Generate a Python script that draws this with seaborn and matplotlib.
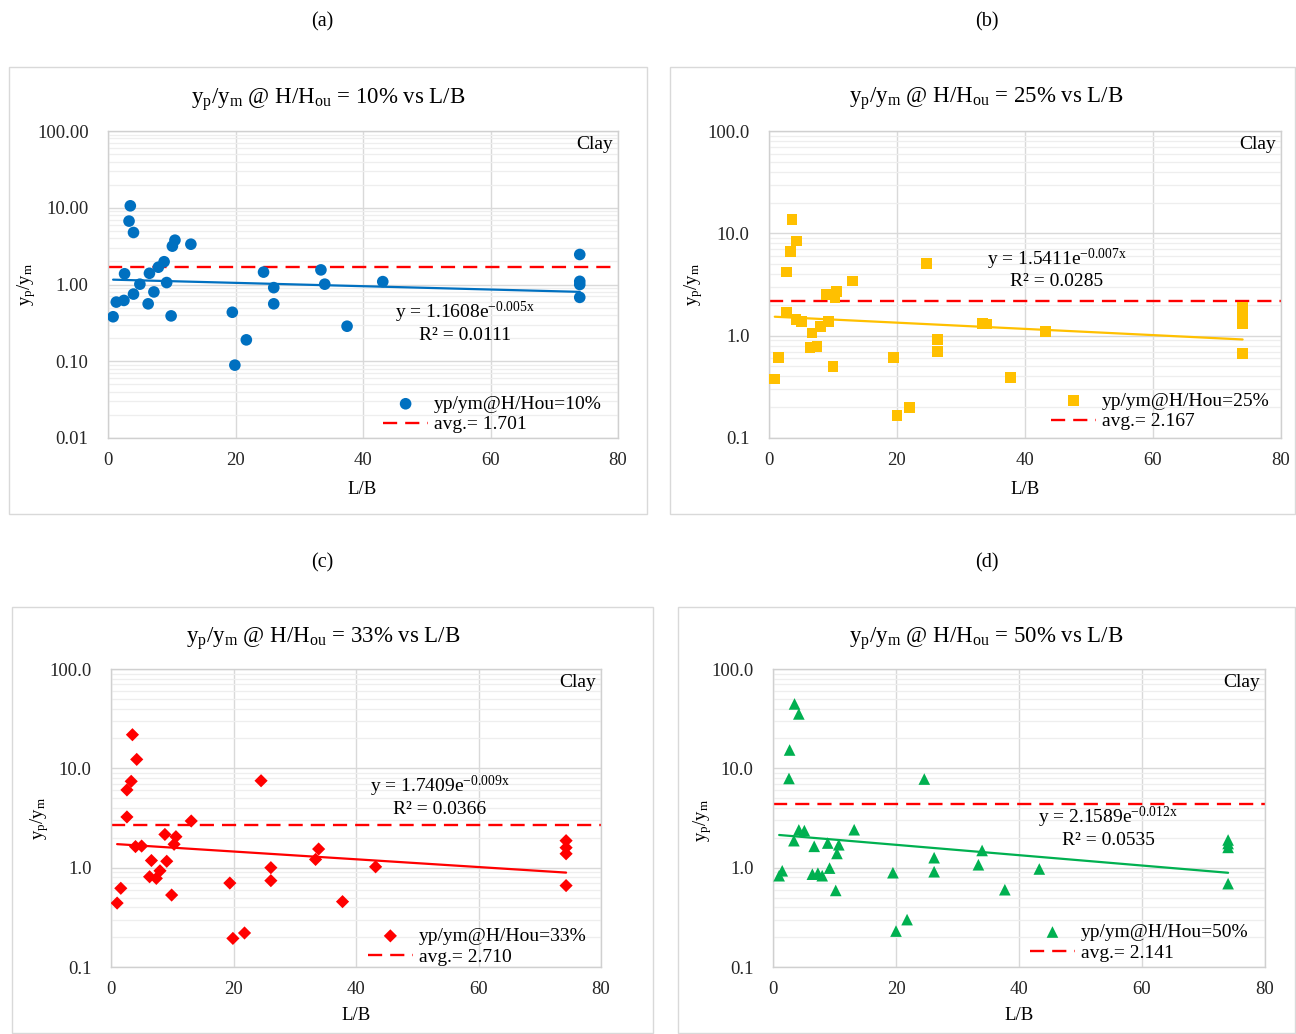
import numpy as np
import pandas as pd
import matplotlib
matplotlib.use("Agg")
import matplotlib.pyplot as plt
import seaborn as sns
from matplotlib.patches import Rectangle
from matplotlib.ticker import FixedLocator, FixedFormatter, LogLocator, NullFormatter

# ---------------- data ----------------
lb_a = [0.8, 1.3, 2.5, 2.6, 3.5, 3.3, 4.0, 4.0, 5.0, 6.3, 6.5, 7.2, 7.9, 8.8, 9.2, 9.9, 10.1, 10.5, 13.0,
        19.5, 19.9, 21.7, 24.4, 26.0, 26.0, 33.4, 34.0, 37.5, 43.1, 74, 74, 74, 74]
yp_a = [0.38, 0.59, 0.62, 1.38, 10.6, 6.7, 4.76, 0.75, 1.01, 0.56, 1.40, 0.80, 1.68, 1.98, 1.06, 0.39, 3.16,
        3.78, 3.35, 0.435, 0.089, 0.19, 1.45, 0.91, 0.56, 1.55, 1.01, 0.286, 1.09, 2.46, 1.10, 1.0, 0.68]

lb_b = [0.9, 1.5, 2.7, 2.7, 3.4, 3.6, 4.3, 4.2, 5.1, 6.4, 6.7, 7.5, 8.0, 9.0, 9.3, 10.0, 10.3, 10.6, 13.1,
        19.4, 20.0, 21.9, 24.6, 26.3, 26.3, 33.4, 34.0, 37.7, 43.2, 74, 74, 74, 74]
yp_b = [0.377, 0.61, 1.67, 4.2, 6.6, 13.6, 8.4, 1.44, 1.38, 0.76, 1.06, 0.78, 1.22, 2.53, 1.37, 0.50, 2.37,
        2.71, 3.43, 0.61, 0.165, 0.198, 5.1, 0.91, 0.70, 1.32, 1.30, 0.39, 1.10, 1.9, 1.55, 1.3, 0.67]

lb_c = [1.0, 1.6, 2.6, 2.6, 3.3, 3.5, 4.2, 4.0, 5.0, 6.3, 6.6, 7.4, 8.0, 8.8, 9.1, 9.9, 10.3, 10.6, 13.1,
        19.4, 19.9, 21.8, 24.5, 26.1, 26.1, 33.4, 33.9, 37.8, 43.2, 74.3, 74.3, 74.3, 74.3]
yp_c = [0.44, 0.62, 3.24, 6.06, 7.4, 21.8, 12.3, 1.63, 1.65, 0.81, 1.18, 0.78, 0.93, 2.16, 1.16, 0.53, 1.72,
        2.05, 2.95, 0.70, 0.194, 0.22, 7.5, 1.0, 0.74, 1.21, 1.54, 0.455, 1.02, 1.87, 1.59, 1.38, 0.66]

lb_d = [1.0, 1.5, 2.6, 2.7, 3.5, 4.2, 3.4, 4.2, 5.1, 6.4, 6.7, 7.3, 8.0, 8.9, 9.2, 10.2, 10.4, 10.7, 13.2,
        19.5, 20.0, 21.8, 24.6, 26.2, 26.2, 33.4, 34.0, 37.7, 43.3, 74, 74, 74, 74]
yp_d = [0.83, 0.93, 7.9, 15.3, 44.5, 35.3, 1.87, 2.4, 2.36, 0.86, 1.64, 0.88, 0.83, 1.77, 0.99, 0.59, 1.39,
        1.70, 2.41, 0.89, 0.23, 0.30, 7.8, 1.26, 0.91, 1.07, 1.49, 0.60, 0.97, 1.9, 1.75, 1.6, 0.69]

panel_letters = ["(a)", "(b)", "(c)", "(d)"]
ratios = ["10%", "25%", "33%", "50%"]
series_labels = ["yp/ym@H/Hou=10%", "yp/ym@H/Hou=25%", "yp/ym@H/Hou=33%", "yp/ym@H/Hou=50%"]
avg_levels = [1.70, 2.17, 2.71, 4.4]
avg_labels = ["avg.= 1.701", "avg.= 2.167", "avg.= 2.710", "avg.= 2.141"]
fit_a = [1.1608, 1.5411, 1.7409, 2.1589]
fit_b = [-0.005, -0.007, -0.009, -0.012]
fit_b_txt = ["-0.005x", "-0.007x", "-0.009x", "-0.012x"]
r2_txt = ["0.0111", "0.0285", "0.0366", "0.0535"]
y_ticks_a = [0.01, 0.1, 1, 10, 100]
y_ticklabels_a = ["0.01", "0.10", "1.00", "10.00", "100.00"]
y_ticks_other = [0.1, 1, 10, 100]
y_ticklabels_other = ["0.1", "1.0", "10.0", "100.0"]
x_ticks = [0, 20, 40, 60, 80]

# ---------------- style ----------------
sns.set_theme(style="white")
plt.rcParams['font.family'] = ['Liberation Serif', 'DejaVu Serif']
plt.rcParams['mathtext.fontset'] = 'custom'
plt.rcParams['mathtext.rm'] = 'Liberation Serif'
plt.rcParams['mathtext.it'] = 'Liberation Serif:italic'
plt.rcParams['mathtext.bf'] = 'Liberation Serif:bold'
plt.rcParams['text.color'] = '#000000'

W, H = 1296, 1034
fig = plt.figure(figsize=(W / 100, H / 100), dpi=100)
fig.patch.set_facecolor('white')

# layout (pixels)
boxes = [(9, 67, 647, 514), (670, 67, 1295, 514), (12, 607, 653, 1033), (678, 607, 1295, 1033)]
axrects = [(108, 131, 618, 438), (769, 131, 1281, 438), (111, 669, 601, 967), (773, 669, 1265, 967)]
letter_pos = [(322, 22), (987, 22), (322, 563), (987, 563)]
title_pos = [(328, 100), (986, 99), (323, 639), (986, 639)]
ylab_pos = [(27, 284), (694, 284), (40, 818), (703, 820)]
xlab_pos = [(362, 489), (1025, 489), (356, 1015), (1019, 1015)]
eq_pos = [(0.70, 0.41, 0.335), (0.5625, 0.583, 0.511), (0.671, 0.607, 0.527), (0.681, 0.503, 0.426)]
leg_anchor = [(0.968, 0.015), (0.978, 0.025), (0.970, 0.005), (0.966, 0.018)]
colors = ['#0070c0', '#ffc000', '#ff0000', '#00b050']
markers = ['o', 's', 'D', '^']
msizes = [70, 60, 45, 70]
datasets = [(lb_a, yp_a), (lb_b, yp_b), (lb_c, yp_c), (lb_d, yp_d)]


def fx(px):
    return px / W


def fy(py):
    return 1 - py / H


for i in range(4):
    x0, y0, x1, y1 = boxes[i]
    fig.patches.append(Rectangle((fx(x0), fy(y1)), (x1 - x0) / W, (y1 - y0) / H,
                                 transform=fig.transFigure, fill=False,
                                 edgecolor='#d9d9d9', lw=1.0))
    l, t, r, b = axrects[i]
    ax = fig.add_axes([fx(l), fy(b), (r - l) / W, (b - t) / H])
    ax.set_facecolor('white')

    xs, ys = datasets[i]
    df = pd.DataFrame({'LB': xs, 'ratio': ys})

    # trend line (exponential fit from the chart's equation)
    xt = np.linspace(min(xs), max(xs), 200)
    ax.plot(xt, fit_a[i] * np.exp(fit_b[i] * xt), color=colors[i], lw=1.6, zorder=3)

    sns.scatterplot(data=df, x='LB', y='ratio', ax=ax, color=colors[i], marker=markers[i],
                    s=msizes[i], edgecolor='none', linewidth=0, label=series_labels[i], zorder=4)
    ax.axhline(avg_levels[i], color='#ff0000', lw=1.7, linestyle=(0, (6.0, 3.4)),
               label=avg_labels[i], zorder=2)

    ax.set_yscale('log')
    ax.set_xlim(0, 80)
    if i == 0:
        ax.set_ylim(0.01, 100)
        ax.yaxis.set_major_locator(FixedLocator(y_ticks_a))
        ax.yaxis.set_major_formatter(FixedFormatter(y_ticklabels_a))
    else:
        ax.set_ylim(0.1, 100)
        ax.yaxis.set_major_locator(FixedLocator(y_ticks_other))
        ax.yaxis.set_major_formatter(FixedFormatter(y_ticklabels_other))
    ax.yaxis.set_minor_locator(LogLocator(base=10, subs=np.arange(2, 10)))
    ax.yaxis.set_minor_formatter(NullFormatter())
    ax.xaxis.set_major_locator(FixedLocator(x_ticks))
    ax.set_xticklabels([str(v) for v in x_ticks])

    ax.grid(which='major', axis='both', color='#d9d9d9', lw=1.0, zorder=0)
    ax.grid(which='minor', axis='y', color='#eeeeee', lw=0.9, zorder=0)
    ax.set_axisbelow(True)
    ax.tick_params(which='both', length=0)
    ax.tick_params(axis='y', labelsize=13.5, pad=14)
    ax.tick_params(axis='x', labelsize=13.5, pad=10)
    for sp in ax.spines.values():
        sp.set_color('#d0d0d0')
        sp.set_linewidth(1.0)
    ax.set_xlabel('')
    ax.set_ylabel('')

    # equation text
    ex, ey1, ey2 = eq_pos[i]
    ax.text(ex, ey1, "y = %.4fe$^{\\mathrm{%s}}$" % (fit_a[i], fit_b_txt[i]), transform=ax.transAxes,
            ha='center', va='center', fontsize=14)
    ax.text(ex, ey2, "R\u00b2 = " + r2_txt[i], transform=ax.transAxes,
            ha='center', va='center', fontsize=14)
    # Clay
    ax.text(0.99, 0.955, "Clay", transform=ax.transAxes, ha='right', va='center', fontsize=14)

    leg = ax.legend(loc='lower right', bbox_to_anchor=leg_anchor[i], frameon=False, fontsize=14,
                    handlelength=2.3, handletextpad=0.3, labelspacing=0.15, borderpad=0,
                    borderaxespad=0)

    # figure texts
    fig.text(fx(letter_pos[i][0]), fy(letter_pos[i][1]), panel_letters[i],
             ha='center', va='center', fontsize=14.5)
    fig.text(fx(title_pos[i][0]), fy(title_pos[i][1]),
             r"y$_\mathrm{p}$/y$_\mathrm{m}$ @ H/H$_\mathrm{ou}$ = " + ratios[i] + " vs L/B",
             ha='center', va='center', fontsize=16.5)
    fig.text(fx(ylab_pos[i][0]), fy(ylab_pos[i][1]), r"y$_\mathrm{p}$/y$_\mathrm{m}$",
             ha='center', va='center', rotation=90, fontsize=13.5)
    fig.text(fx(xlab_pos[i][0]), fy(xlab_pos[i][1]), "L/B", ha='center', va='center', fontsize=13.5)

fig.savefig('out.png', dpi=100, facecolor='white')
